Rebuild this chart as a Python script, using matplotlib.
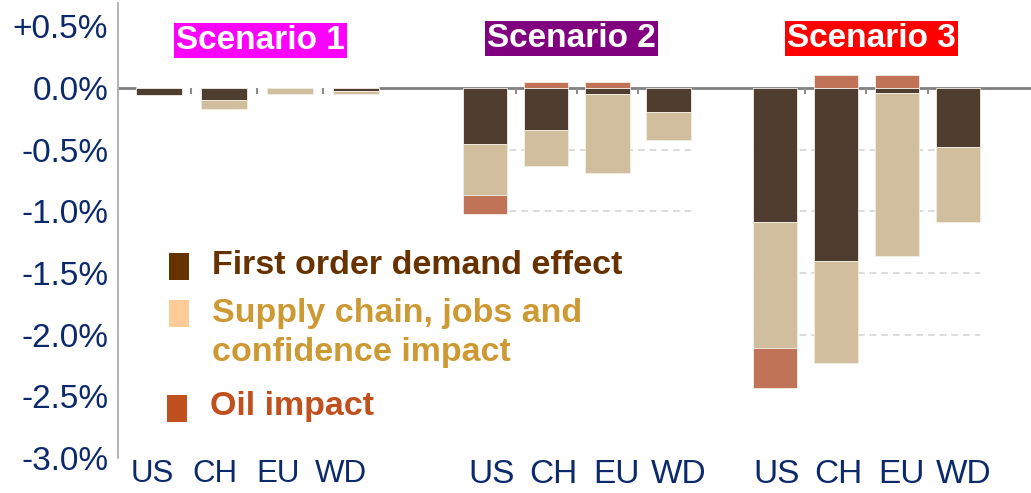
import matplotlib.pyplot as plt
from matplotlib.patches import Rectangle

# ── data (% impact on GDP) ─────────────────────────────────────
countries = ["US", "CH", "EU", "WD"]
scenarios = ["Scenario 1", "Scenario 2", "Scenario 3"]
scenario_colors = ["#FF00FF", "#800080", "#FF0000"]

demand = [[-0.06, -0.10, 0.00, -0.02],
          [-0.45, -0.34, -0.045, -0.19],
          [-1.085, -1.40, -0.04, -0.475]]
supply = [[0.00, -0.07, -0.05, -0.03],
          [-0.42, -0.29, -0.64, -0.235],
          [-1.02, -0.83, -1.32, -0.61]]
oil = [[0.00, 0.00, 0.00, 0.00],
       [-0.155, 0.05, 0.05, 0.00],
       [-0.33, 0.11, 0.11, 0.00]]

yticks = [0.5, 0.0, -0.5, -1.0, -1.5, -2.0, -2.5, -3.0]
ytick_labels = ["+0.5%", "0.0%", "-0.5%", "-1.0%", "-1.5%", "-2.0%", "-2.5%", "-3.0%"]

legend_labels = ["First order demand effect",
                 "Supply chain, jobs and\nconfidence impact",
                 "Oil impact"]

# ── styling / layout (x axis is in pixel units of the 1031 px figure) ──
W, H = 1031, 493
BAR_COLORS = ["#4F3D30", "#D0BE9D", "#C07356"]
KEY_COLORS = ["#663300", "#FFCC99", "#C0501E"]
TEXT_COLORS = ["#663300", "#CC9933", "#C0501E"]
NAVY = "#0C2A6B"
FONT = ["Liberation Sans", "DejaVu Sans"]

group_first = [158.5, 485.0, 774.5]
group_step = [65.7, 61.2, 61.3]
bar_w = [46, 44.5, 44]
label_first = [152.5, 491.5, 776.5]
label_step = [62.7, 62.3, 62.3]
label_size = [22.5, 24, 24]
grid_floor = [0.0, -1.0, -2.0]
title_x = [260.5, 571.5, 871.5]
title_y = [0.385, 0.40, 0.40]

plt.rcParams["font.family"] = FONT

fig = plt.figure(figsize=(W / 100, H / 100), dpi=100)
ax = fig.add_axes([118 / W, 35 / H, (W - 118) / W, 455 / H])
ax.set_xlim(118, W)
ax.set_ylim(-3.0, 0.69)

for g in range(len(scenarios)):
    xs = [group_first[g] + i * group_step[g] for i in range(len(countries))]
    w = bar_w[g]

    # dashed gridlines only where the original panel had them
    lvl = -0.5
    while lvl >= grid_floor[g] - 1e-9:
        ax.hlines(lvl, xs[0] - w / 2, xs[-1] + w / 2, color="#D5D5D5",
                  lw=1.2, linestyles=(0, (4, 3)), zorder=1)
        lvl -= 0.5

    for i, x in enumerate(xs):
        neg, pos = 0.0, 0.0
        for val, col in zip((demand[g][i], supply[g][i], oil[g][i]), BAR_COLORS):
            if val < 0:
                ax.bar(x, val, bottom=neg, width=w, color=col,
                       edgecolor="#F2EEE6", lw=0.6, zorder=3)
                neg += val
            elif val > 0:
                ax.bar(x, val, bottom=pos, width=w, color=col,
                       edgecolor="#F2EEE6", lw=0.6, zorder=3)
                pos += val

    # small ticks on the zero line between bars
    for a, b in zip(xs[:-1], xs[1:]):
        ax.vlines((a + b) / 2, -0.05, 0, color="#8C8C8C", lw=1.5, zorder=4)

    # country labels
    for i, c in enumerate(countries):
        ax.text(label_first[g] + i * label_step[g], -3.13, c, ha="center",
                va="center", fontsize=label_size[g], color=NAVY, clip_on=False)

    # scenario title boxes
    ax.text(title_x[g], title_y[g], scenarios[g], ha="center", va="center",
            fontsize=24, fontweight="bold", color="white", zorder=5,
            bbox=dict(boxstyle="square,pad=0.06", fc=scenario_colors[g], ec="none"))

# zero line (broken inside Scenario 1 like the source slide)
s1_left = group_first[0] - bar_w[0] / 2
s1_right = group_first[0] + 3 * group_step[0] + bar_w[0] / 2
ax.hlines(0, 118, s1_left, color="#808080", lw=2, zorder=2)
ax.hlines(0, s1_right, W, color="#808080", lw=2, zorder=2)

# axes cosmetics
for side in ("top", "right", "bottom"):
    ax.spines[side].set_visible(False)
ax.spines["left"].set_color("#A6A6A6")
ax.spines["left"].set_linewidth(1.2)
ax.set_xticks([])
ax.set_yticks(yticks, ytick_labels)
ax.tick_params(axis="y", length=0, pad=7, labelsize=24, labelcolor=NAVY)

# ── hand-placed legend ────────────────────────────────────────
key_boxes = [(169, 253), (169, 300), (167, 395)]   # top-left px of keys
text_pos = [(212, 266), (212, 333), (210, 407)]   # left / centre px
for (kx, ky), (tx, ty), kc, tc, lab in zip(key_boxes, text_pos, KEY_COLORS,
                                           TEXT_COLORS, legend_labels):
    fig.patches.append(Rectangle((kx / W, 1 - (ky + 27) / H), 20 / W, 27 / H,
                                 transform=fig.transFigure, fc=kc, ec="none"))
    fig.text(tx / W, 1 - ty / H, lab, ha="left", va="center", fontsize=24.5,
             fontweight="bold", color=tc, linespacing=1.32)

fig.savefig("out.png", dpi=100)
